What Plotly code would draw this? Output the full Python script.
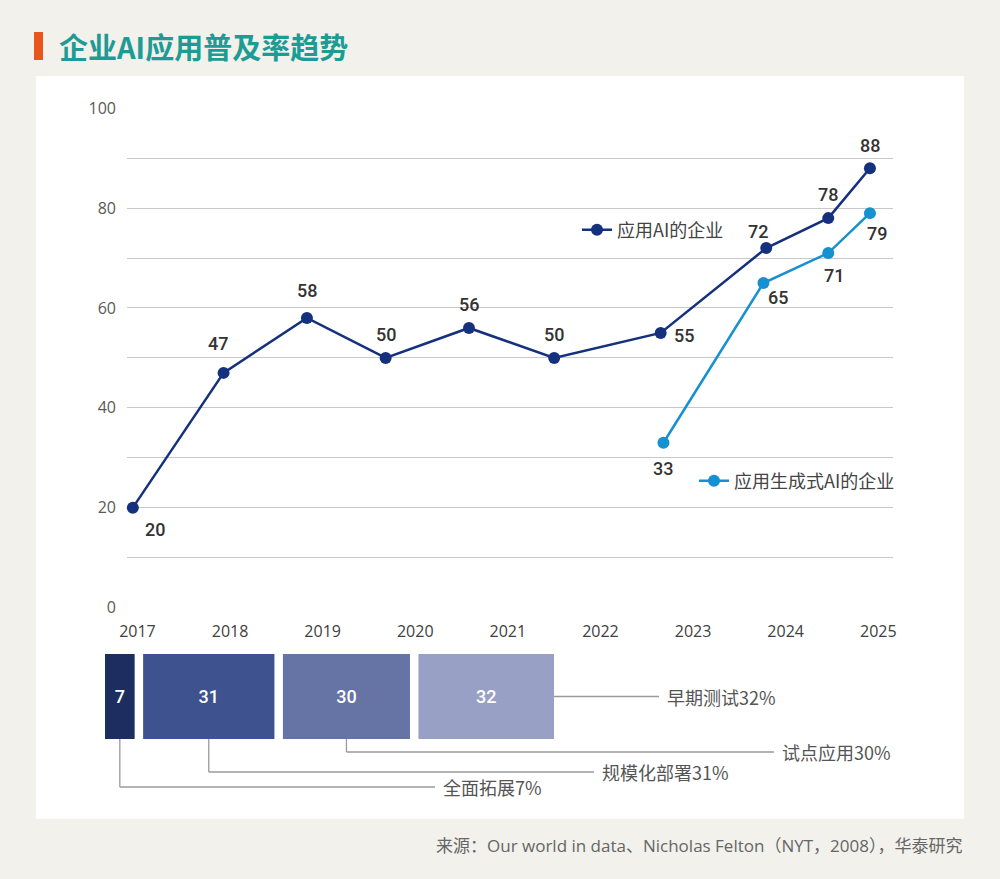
import plotly.graph_objects as go

# 主图数据：应用AI的企业 / 应用生成式AI的企业（x为年份小数位置）
ai_x = [2016.95, 2017.93, 2018.83, 2019.68, 2020.58, 2021.50, 2022.65, 2023.79, 2024.46, 2024.91]
ai_y = [20, 47, 58, 50, 56, 50, 55, 72, 78, 88]
gen_x = [2022.68, 2023.76, 2024.46, 2024.91]
gen_y = [33, 65, 71, 79]
years = [2017, 2018, 2019, 2020, 2021, 2022, 2023, 2024, 2025]

# 底部阶段分布
stages = ['全面拓展', '规模化部署', '试点应用', '早期测试']
stage_pct = [7, 31, 30, 32]

W, H = 1000, 879
DARK = '#15317e'
LIGHT = '#1590d0'
NUM_FONT = 'Roboto, sans-serif'
CJK = 'Noto Sans CJK SC, Open Sans, sans-serif'
MIX = 'Open Sans, Noto Sans CJK SC, sans-serif'


def px(x):
    return x / W


def py(y):
    return 1 - y / H


# 数据标签偏移（像素）
ai_off = [(22, -22), (-6, 29), (0, 27), (0, 23), (0, 23), (0, 23), (23, -3), (-8, 17), (0, 24), (0, 23)]
gen_off = [(0, -26), (15, -14), (6, -22), (7, -20)]

fig = go.Figure()
fig.add_trace(go.Scatter(
    x=ai_x, y=ai_y, name='应用AI的企业', mode='lines+markers',
    line=dict(color=DARK, width=2.5), marker=dict(size=12, color=DARK),
    cliponaxis=False, legend='legend', hoverinfo='y'
))
fig.add_trace(go.Scatter(
    x=gen_x, y=gen_y, name='应用生成式AI的企业', mode='lines+markers',
    line=dict(color=LIGHT, width=2.5), marker=dict(size=12, color=LIGHT),
    cliponaxis=False, legend='legend2', hoverinfo='y'
))

annotations = []
for xs, ys, offs in [(ai_x, ai_y, ai_off), (gen_x, gen_y, gen_off)]:
    for x, y, (dx, dy) in zip(xs, ys, offs):
        annotations.append(dict(
            x=x, y=y, xref='x', yref='y', text=str(y), showarrow=False,
            xshift=dx, yshift=dy, font=dict(family=NUM_FONT, size=18, color='#333333', weight=500)
        ))

# 底部分段条形
bar_colors = ['#1d2d5f', '#3e5290', '#6574a5', '#98a1c5']
gap = 2
bases = []
acc = 0
for v in stage_pct:
    bases.append(acc)
    acc += v + gap
total = acc - gap
bar_dom = [px(105), px(554)]
bar_top, bar_bot = 654, 739

for name, v, b, c in zip(stages, stage_pct, bases, bar_colors):
    fig.add_trace(go.Bar(
        x=[v], y=[0], base=[b], orientation='h', width=1,
        marker=dict(color=c, line=dict(width=0)),
        text=[str(v)], textposition='inside', insidetextanchor='middle',
        textfont=dict(family=NUM_FONT, size=18, color='white', weight=500),
        xaxis='x2', yaxis='y2', showlegend=False, name=name, hoverinfo='x'
    ))


def bar_px(u):
    return bar_dom[0] + u / total * (bar_dom[1] - bar_dom[0])


# 引线：纵向落点y、横向终点x（像素）
lead_y = [787, 772, 752, (bar_top + bar_bot) / 2]
lead_end = [435, 594, 774, 659]
shapes = [
    dict(type='rect', xref='paper', yref='paper', x0=px(36), x1=px(964), y0=py(818.7), y1=py(76),
         fillcolor='white', line=dict(width=0), layer='below'),
    dict(type='rect', xref='paper', yref='paper', x0=px(34), x1=px(43), y0=py(60), y1=py(32),
         fillcolor='#e8561c', line=dict(width=0)),
]
lc = dict(color='#9a9a9a', width=1.3)
for i, (name, v, b) in enumerate(zip(stages, stage_pct, bases)):
    if i == len(stages) - 1:
        x0 = bar_px(b + v)
        shapes.append(dict(type='line', xref='paper', yref='paper', x0=x0, x1=px(lead_end[i]),
                           y0=py(lead_y[i]), y1=py(lead_y[i]), line=lc))
    else:
        xc = bar_px(b + v / 2)
        shapes.append(dict(type='line', xref='paper', yref='paper', x0=xc, x1=xc,
                           y0=py(bar_bot), y1=py(lead_y[i]), line=lc))
        shapes.append(dict(type='line', xref='paper', yref='paper', x0=xc, x1=px(lead_end[i]),
                           y0=py(lead_y[i]), y1=py(lead_y[i]), line=lc))
    annotations.append(dict(
        x=px(lead_end[i] + 6), y=py(lead_y[i]), xref='paper', yref='paper',
        xanchor='left', yanchor='middle', showarrow=False, text=f'{name}{v}%',
        font=dict(family=CJK, size=18, color='#555555')
    ))

annotations.append(dict(
    x=px(57), y=py(46), xref='paper', yref='paper', xanchor='left', yanchor='middle',
    showarrow=False, text='<b>企业AI应用普及率趋势</b>',
    font=dict(family=CJK, size=29, color='#1e9b94')
))
annotations.append(dict(
    x=px(964), y=py(845), xref='paper', yref='paper', xanchor='right', yanchor='middle',
    showarrow=False, text='来源：Our world in data、Nicholas Felton（NYT，2008），华泰研究',
    font=dict(family=MIX, size=17, color='#666666')
))

ytv = list(range(0, 101, 10))
ytt = [str(v) if v % 20 == 0 else '' for v in ytv]

fig.update_layout(
    width=W, height=H,
    margin=dict(l=0, r=0, t=0, b=0),
    paper_bgcolor='#f2f1ec', plot_bgcolor='rgba(0,0,0,0)',
    xaxis=dict(domain=[px(127), px(893)], range=[2016.887, 2025.159],
               tickvals=years, ticktext=[str(y) for y in years], showgrid=False, zeroline=False,
               showline=False, ticks='', ticklabelstandoff=12, automargin=False,
               tickfont=dict(family='Open Sans, sans-serif', size=16, color='#404040')),
    yaxis=dict(domain=[py(607.5), py(108.3)], range=[0, 100], tickvals=ytv, ticktext=ytt,
               showgrid=True, gridcolor='#c8c8c8', gridwidth=1, zeroline=False, showline=False,
               ticks='', ticklabelstandoff=10, automargin=False,
               tickfont=dict(family='Open Sans, sans-serif', size=16, color='#595959')),
    xaxis2=dict(domain=bar_dom, range=[0, total], visible=False, anchor='y2'),
    yaxis2=dict(domain=[py(bar_bot), py(bar_top)], range=[-0.5, 0.5], visible=False, anchor='x2'),
    barmode='overlay',
    legend=dict(x=px(577), y=py(230), xanchor='left', yanchor='middle', bgcolor='rgba(0,0,0,0)',
                font=dict(family=CJK, size=18, color='#444444')),
    legend2=dict(x=px(694), y=py(481), xanchor='left', yanchor='middle', bgcolor='rgba(0,0,0,0)',
                 font=dict(family=CJK, size=18, color='#444444')),
    shapes=shapes,
    annotations=annotations,
)

fig.write_html('out.html', config={'displayModeBar': False},
               post_script="document.body.style.margin='0';")
